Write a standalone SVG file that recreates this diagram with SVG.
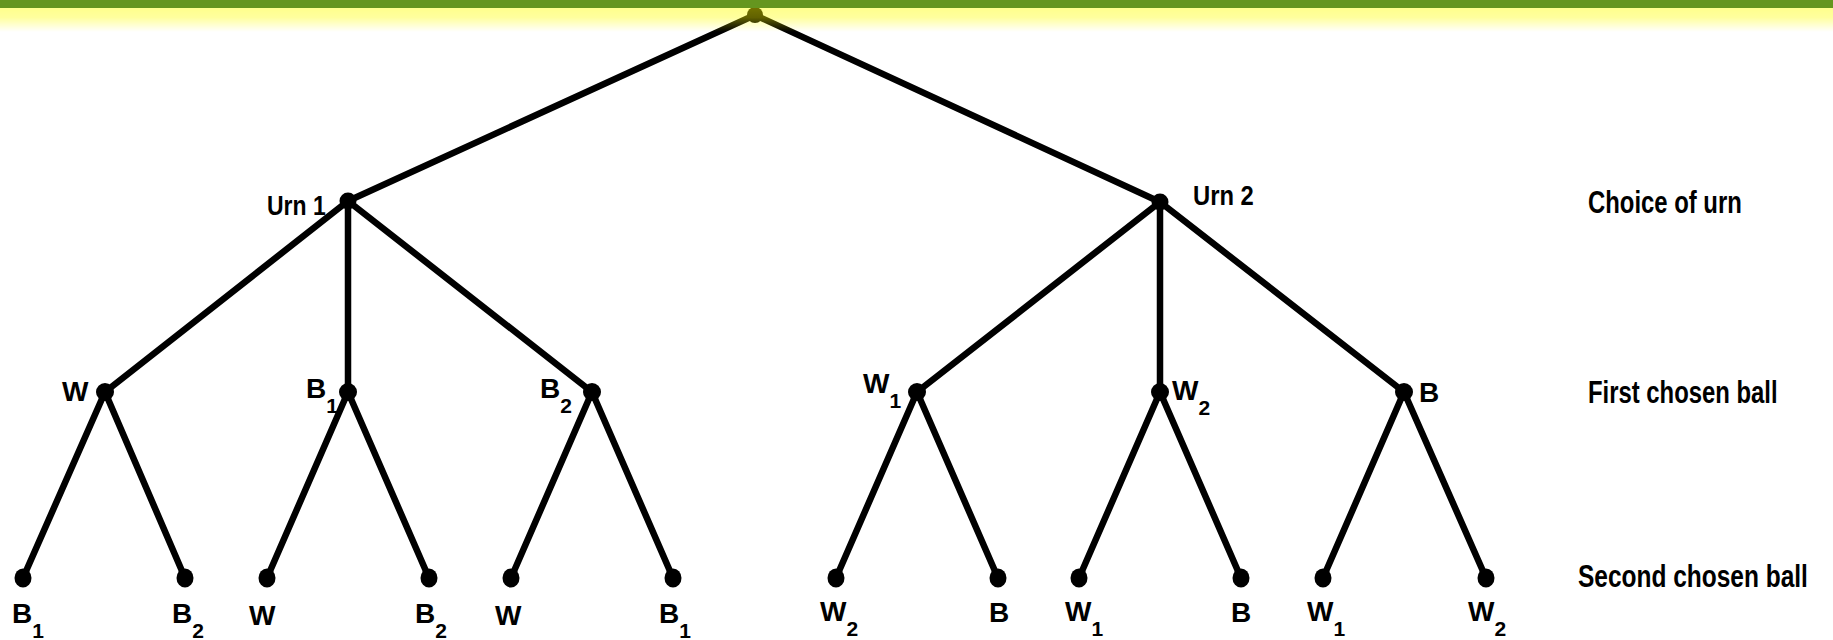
<svg xmlns="http://www.w3.org/2000/svg" width="1833" height="640" viewBox="0 0 1833 640">
  <defs>
    <linearGradient id="glow" x1="0" y1="0" x2="0" y2="1">
      <stop offset="0" stop-color="#ffff00" stop-opacity="0.45"/>
      <stop offset="0.4" stop-color="#ffff00" stop-opacity="0.38"/>
      <stop offset="1" stop-color="#ffff00" stop-opacity="0"/>
    </linearGradient>
    <style>
      .edge { stroke: #000; stroke-width: 6.5; stroke-linecap: round; fill: none; }
      .dot { fill: #000; }
      .lbl { font-family: "Liberation Sans", Arial, sans-serif; font-weight: bold; font-size: 28px; fill: #000; }
      .sub { font-size: 21px; }
      .txt { font-family: "Liberation Sans", Arial, sans-serif; font-weight: bold; font-size: 31px; fill: #000; }
    </style>
  </defs>

  <rect x="0" y="0" width="1833" height="640" fill="#ffffff"/>

  <!-- branches of the probability tree -->
  <g id="connectors">
    <path class="edge" d="M755 15 L348 201 M755 15 L1160 202"/>
    <path class="edge" d="M348 201 L105 392 M348 201 L348 392 M348 201 L592 392"/>
    <path class="edge" d="M1160 202 L917 392 M1160 202 L1160 392 M1160 202 L1404 392"/>
    <path class="edge" d="M105 392 L23 578 M105 392 L185 578"/>
    <path class="edge" d="M348 392 L267 578 M348 392 L429 578"/>
    <path class="edge" d="M592 392 L511 578 M592 392 L673 578"/>
    <path class="edge" d="M917 392 L836 578 M917 392 L998 578"/>
    <path class="edge" d="M1160 392 L1079 578 M1160 392 L1241 578"/>
    <path class="edge" d="M1404 392 L1323 578 M1404 392 L1486 578"/>
  </g>

  <g id="root"><circle class="dot" cx="755" cy="15" r="8"/></g>

  <!-- choice of urn -->
  <g id="urn1">
    <circle class="dot" cx="348" cy="201" r="8.5"/>
    <text class="lbl" transform="translate(267 215) scale(0.82 1)" x="0" y="0" font-size="31">Urn 1</text>
  </g>
  <g id="urn2">
    <circle class="dot" cx="1160" cy="202" r="8.5"/>
    <text class="lbl" transform="translate(1193 205) scale(0.85 1)" x="0" y="0" font-size="31">Urn 2</text>
  </g>

  <!-- first chosen ball -->
  <g id="u1-w">
    <circle class="dot" cx="105" cy="392" r="9"/>
    <text class="lbl" x="62" y="401">W</text>
  </g>
  <g id="u1-b1">
    <circle class="dot" cx="348" cy="392" r="9"/>
    <text class="lbl" x="306" y="398">B<tspan class="sub" dy="15">1</tspan></text>
  </g>
  <g id="u1-b2">
    <circle class="dot" cx="592" cy="392" r="9"/>
    <text class="lbl" x="540" y="398">B<tspan class="sub" dy="15">2</tspan></text>
  </g>
  <g id="u2-w1">
    <circle class="dot" cx="917" cy="392" r="9"/>
    <text class="lbl" x="863" y="393">W<tspan class="sub" dy="15">1</tspan></text>
  </g>
  <g id="u2-w2">
    <circle class="dot" cx="1160" cy="392" r="9"/>
    <text class="lbl" x="1172" y="400">W<tspan class="sub" dy="15">2</tspan></text>
  </g>
  <g id="u2-b">
    <circle class="dot" cx="1404" cy="392" r="9"/>
    <text class="lbl" x="1419" y="402">B</text>
  </g>

  <!-- second chosen ball -->
  <g id="leaf-1"><ellipse class="dot" cx="23" cy="578" rx="8.5" ry="9.5"/><text class="lbl" x="12" y="623">B<tspan class="sub" dy="15">1</tspan></text></g>
  <g id="leaf-2"><ellipse class="dot" cx="185" cy="578" rx="8.5" ry="9.5"/><text class="lbl" x="172" y="623">B<tspan class="sub" dy="15">2</tspan></text></g>
  <g id="leaf-3"><ellipse class="dot" cx="267" cy="578" rx="8.5" ry="9.5"/><text class="lbl" x="249" y="625">W</text></g>
  <g id="leaf-4"><ellipse class="dot" cx="429" cy="578" rx="8.5" ry="9.5"/><text class="lbl" x="415" y="623">B<tspan class="sub" dy="15">2</tspan></text></g>
  <g id="leaf-5"><ellipse class="dot" cx="511" cy="578" rx="8.5" ry="9.5"/><text class="lbl" x="495" y="625">W</text></g>
  <g id="leaf-6"><ellipse class="dot" cx="673" cy="578" rx="8.5" ry="9.5"/><text class="lbl" x="659" y="623">B<tspan class="sub" dy="15">1</tspan></text></g>
  <g id="leaf-7"><ellipse class="dot" cx="836" cy="578" rx="8.5" ry="9.5"/><text class="lbl" x="820" y="621">W<tspan class="sub" dy="15">2</tspan></text></g>
  <g id="leaf-8"><ellipse class="dot" cx="998" cy="578" rx="8.5" ry="9.5"/><text class="lbl" x="989" y="622">B</text></g>
  <g id="leaf-9"><ellipse class="dot" cx="1079" cy="578" rx="8.5" ry="9.5"/><text class="lbl" x="1065" y="621">W<tspan class="sub" dy="15">1</tspan></text></g>
  <g id="leaf-10"><ellipse class="dot" cx="1241" cy="578" rx="8.5" ry="9.5"/><text class="lbl" x="1231" y="622">B</text></g>
  <g id="leaf-11"><ellipse class="dot" cx="1323" cy="578" rx="8.5" ry="9.5"/><text class="lbl" x="1307" y="621">W<tspan class="sub" dy="15">1</tspan></text></g>
  <g id="leaf-12"><ellipse class="dot" cx="1486" cy="578" rx="8.5" ry="9.5"/><text class="lbl" x="1468" y="621">W<tspan class="sub" dy="15">2</tspan></text></g>

  <!-- level captions, set in a condensed cut of the bold face -->
  <g id="captions">
    <text class="txt" transform="translate(1588 213) scale(0.77 1)" x="0" y="0">Choice of urn</text>
    <text class="txt" transform="translate(1588 403) scale(0.77 1)" x="0" y="0">First chosen ball</text>
    <text class="txt" transform="translate(1578 587) scale(0.79 1)" x="0" y="0">Second chosen ball</text>
  </g>

  <!-- title bar with its soft yellow glow -->
  <rect x="0" y="8" width="1833" height="24" fill="url(#glow)"/>
  <rect x="0" y="0" width="1833" height="8" fill="#65961f"/>
</svg>
